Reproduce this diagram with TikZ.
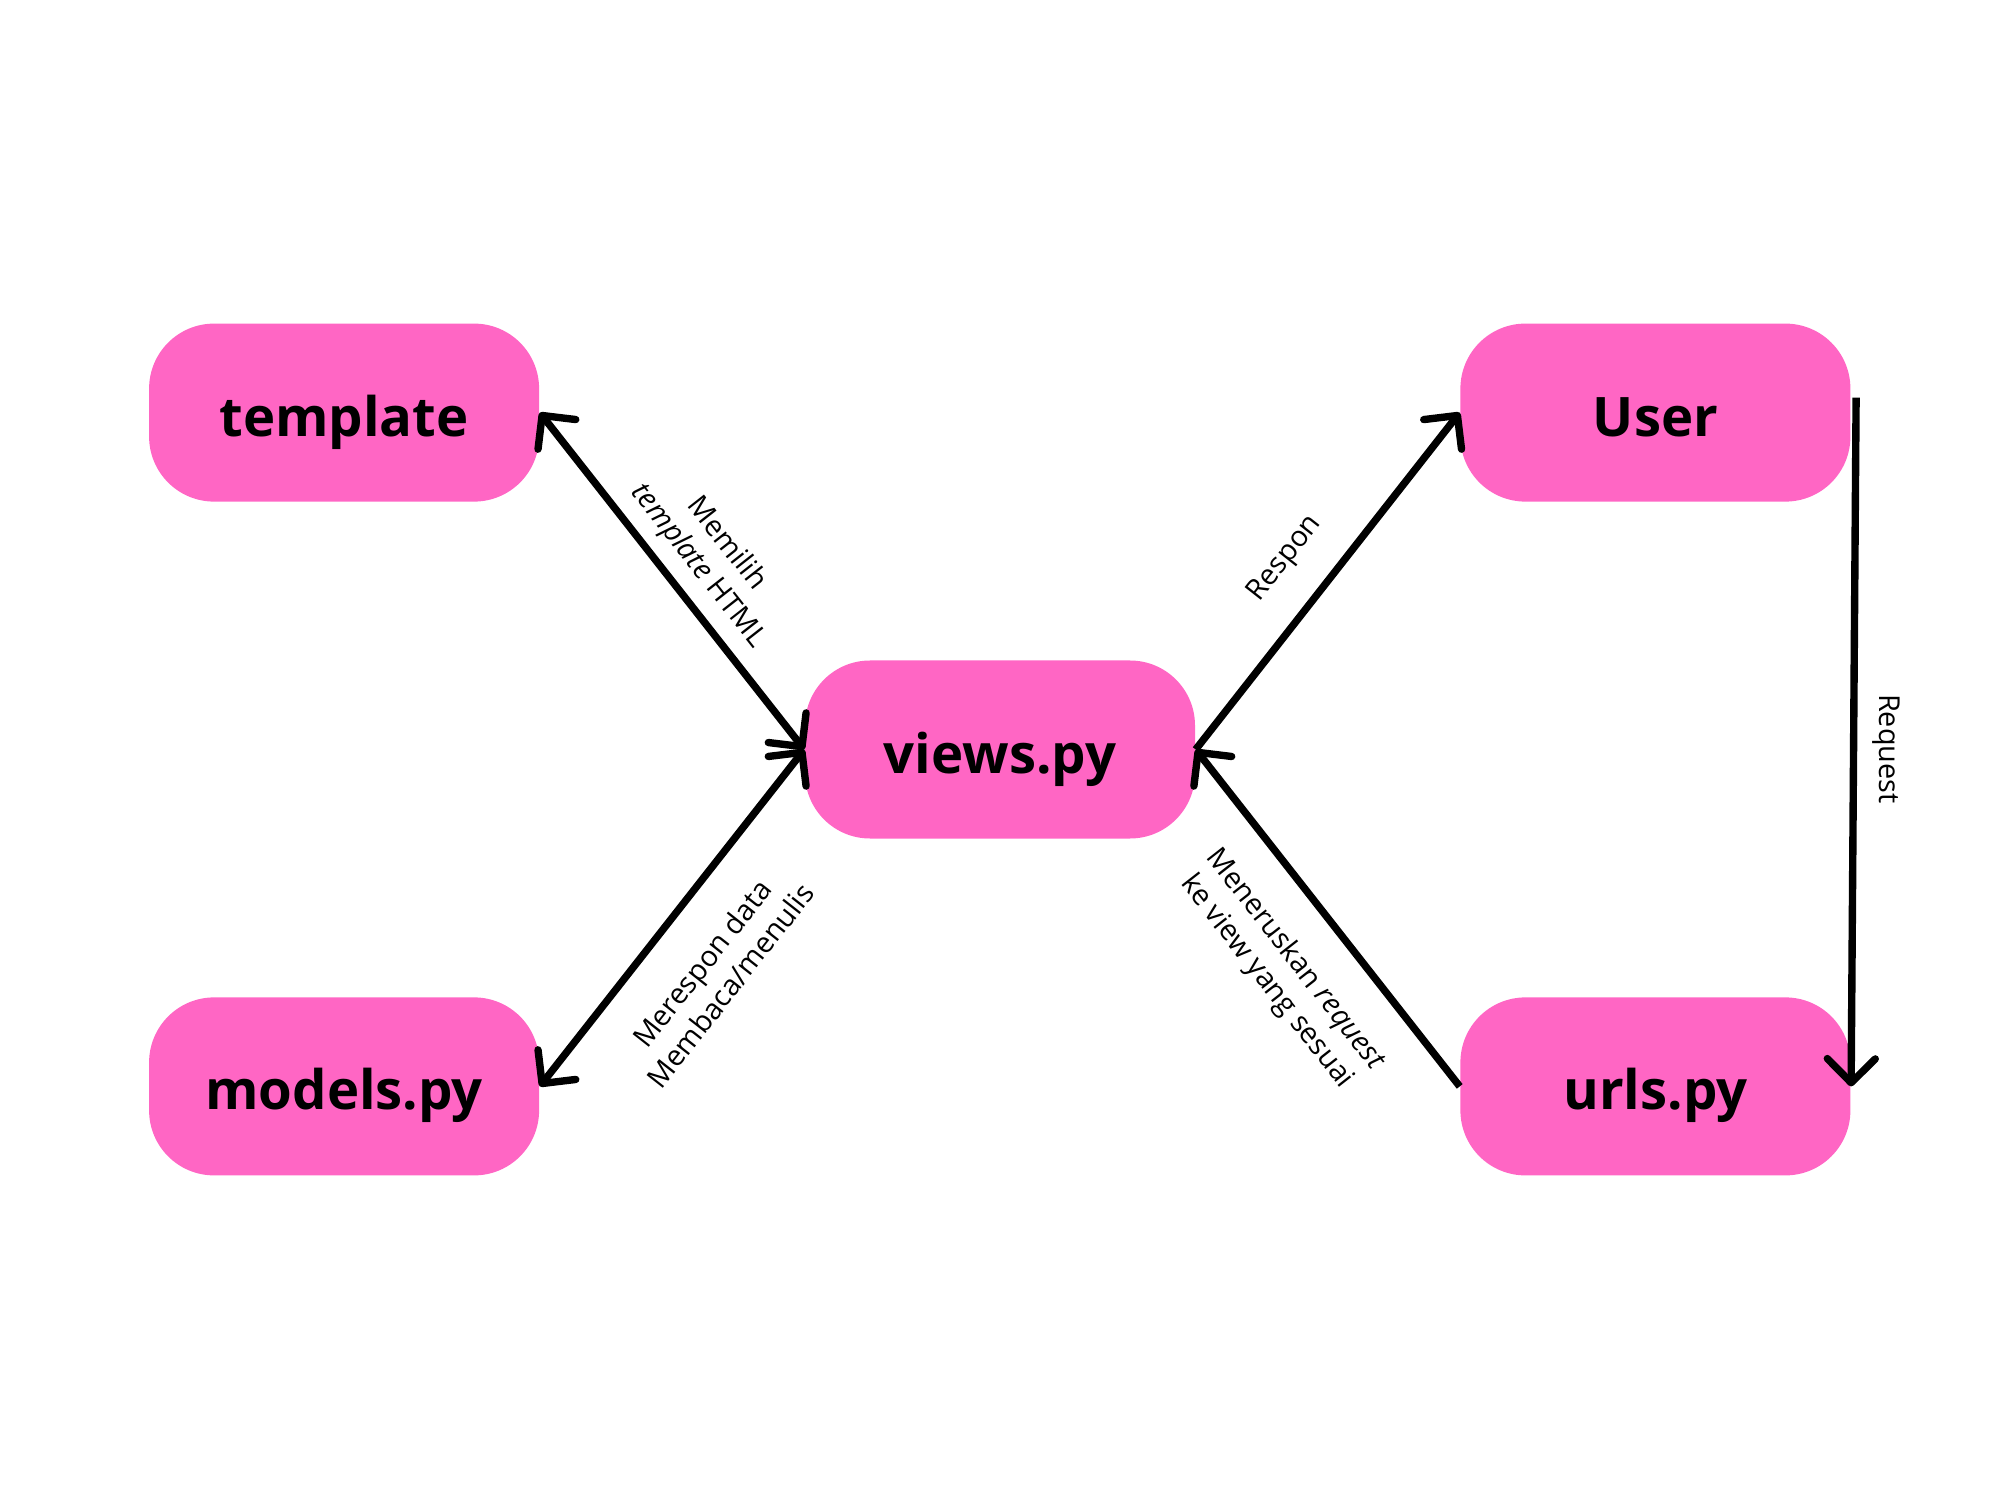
\documentclass[tikz,border=0pt]{standalone}
\usepackage{fontspec}
\setmainfont{Open Sans}
\usepackage{tikz}
\usetikzlibrary{positioning,arrows.meta}
\definecolor{c_pink}{HTML}{FF66C4}

\begin{document}
\begin{tikzpicture}[
        node distance=1cm,
        box/.style={fill=c_pink,rounded corners=0.65cm,minimum width=3.9cm,minimum height=1.78cm,
            inner sep=0pt,text height=0.47cm,text depth=0pt,font=\bfseries\fontsize{15.5}{18}\selectfont},
        flow/.style={line width=2.1pt,-{Straight Barb[round,length=2.4mm,width=4.8mm]}},
        backflow/.style={line width=2.1pt,{Straight Barb[round,length=2.4mm,width=4.8mm]}-},
        biflow/.style={line width=2.1pt,{Straight Barb[round,length=2.4mm,width=4.8mm]}-{Straight Barb[round,length=2.4mm,width=4.8mm]}},
        lbl/.style={font=\fontsize{8.2}{10.2}\selectfont,align=center,sloped},
        vlbl/.style={font=\fontsize{8.2}{10.2}\selectfont,xshift=0.33cm,rotate=-90}
    ]
        \useasboundingbox (0,0) rectangle (20,15);
        \node[box] (views) at (10,7.505) {views.py};
        \node[box] (template) [above left = 1.575cm and 2.645cm of views] {template};
        \node[box] (models) [below left = 1.575cm and 2.645cm of views] {models.py};
        \node[box] (user) [above right = 1.575cm and 2.64cm of views] {User};
        \node[box] (urls) [below right = 1.575cm and 2.64cm of views] {urls.py};
        \coordinate (req) at ([shift={(0.05,0.15)}]user.east);

        \draw[biflow] (template.east) -- node[lbl, above, pos=0.51] {Memilih\\\textit{template} HTML} (views.west);
        \draw[biflow] (models.east) -- node[lbl, below=0.25cm, pos=0.46] {Merespon data\\Membaca/menulis} (views.west);
        \draw[flow] (views.east) -- node[lbl, above=0.18cm, pos=0.48] {Respon} (user.west);
        \draw[backflow] (views.east) -- node[lbl, below=0.22cm, pos=0.53] {Meneruskan \textit{request}\\ke view yang sesuai} (urls.west);
        \draw[flow] (req) -- node[vlbl, pos=0.51] {Request} (urls.east);
    \end{tikzpicture}
\end{document}
